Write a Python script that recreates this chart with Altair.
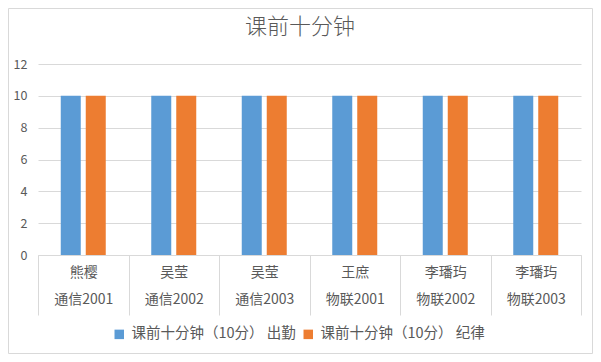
import altair as alt
import pandas as pd

title_text = "课前十分钟"
names = ["熊樱", "吴莹", "吴莹", "王庶", "李璠玙", "李璠玙"]
classes = ["通信2001", "通信2002", "通信2003", "物联2001", "物联2002", "物联2003"]
attendance = [10, 10, 10, 10, 10, 10]
discipline = [10, 10, 10, 10, 10, 10]
series = ["课前十分钟（10分） 出勤", "课前十分钟（10分） 纪律"]
colors = ["#5B9BD5", "#ED7D31"]
y_ticks = [0, 2, 4, 6, 8, 10, 12]

cats = [f"{n}|{c}" for n, c in zip(names, classes)]
rows = []
for cat, a, d in zip(cats, attendance, discipline):
    rows.append({"cat": cat, "series": series[0], "value": a})
    rows.append({"cat": cat, "series": series[1], "value": d})
df = pd.DataFrame(rows)

FONT = "Noto Sans CJK SC"
W, H = 543, 191
PL, PT = 30, 56
TOTAL_W, TOTAL_H = 585, 346

bars = alt.Chart(df).mark_bar().encode(
    x=alt.X(
        "cat:N", sort=cats,
        scale=alt.Scale(paddingInner=0, paddingOuter=0),
        axis=alt.Axis(
            title=None, labelExpr="split(datum.label, '|')", labelAngle=0,
            tickBand="extent", tickSize=60, tickColor="#d9d9d9", domainColor="#d9d9d9",
            labelPadding=-50, labelFontSize=14, labelColor="#595959",
            labelLineHeight=27, labelFont=FONT, labelBaseline="top",
        ),
    ),
    xOffset=alt.XOffset("series:N", sort=series,
                        scale=alt.Scale(paddingInner=0.2, paddingOuter=0.91)),
    y=alt.Y(
        "value:Q", scale=alt.Scale(domain=[0, 12]),
        axis=alt.Axis(
            values=y_ticks, title=None, domain=False, ticks=False,
            gridColor="#d9d9d9", labelPadding=11, labelFontSize=12.5,
            labelColor="#595959", labelFont=FONT,
        ),
    ),
    color=alt.Color(
        "series:N", sort=series,
        scale=alt.Scale(domain=series, range=colors),
        legend=alt.Legend(
            title=None, orient="none", direction="horizontal",
            legendX=74, legendY=263, symbolType="square", symbolSize=90,
            symbolStrokeWidth=0, labelFontSize=14.5, labelColor="#595959",
            labelFont=FONT, columnPadding=5, labelOffset=5, labelLimit=300,
        ),
    ),
)

title = alt.Chart(pd.DataFrame({"t": [title_text]})).mark_text(
    fontSize=22, color="#595959", font=FONT, fontWeight=300,
    baseline="middle", align="center"
).encode(text="t:N", x=alt.value(262), y=alt.value(-37))

border = alt.Chart(pd.DataFrame({"b": [0]})).mark_rect(
    fill=None, stroke="#d9d9d9", strokeWidth=1
).encode(
    x=alt.value(-PL + 0.5), x2=alt.value(TOTAL_W - PL - 0.5),
    y=alt.value(-PT + 0.5), y2=alt.value(TOTAL_H - PT - 0.5),
)

chart = alt.layer(bars, title, border).properties(
    width=W, height=H,
    autosize=alt.AutoSizeParams(type="none"),
    padding={"left": PL, "top": PT, "right": TOTAL_W - PL - W, "bottom": TOTAL_H - PT - H},
).configure_view(stroke=None)

chart.save("out.html", embed_options={"renderer": "svg", "actions": False})
